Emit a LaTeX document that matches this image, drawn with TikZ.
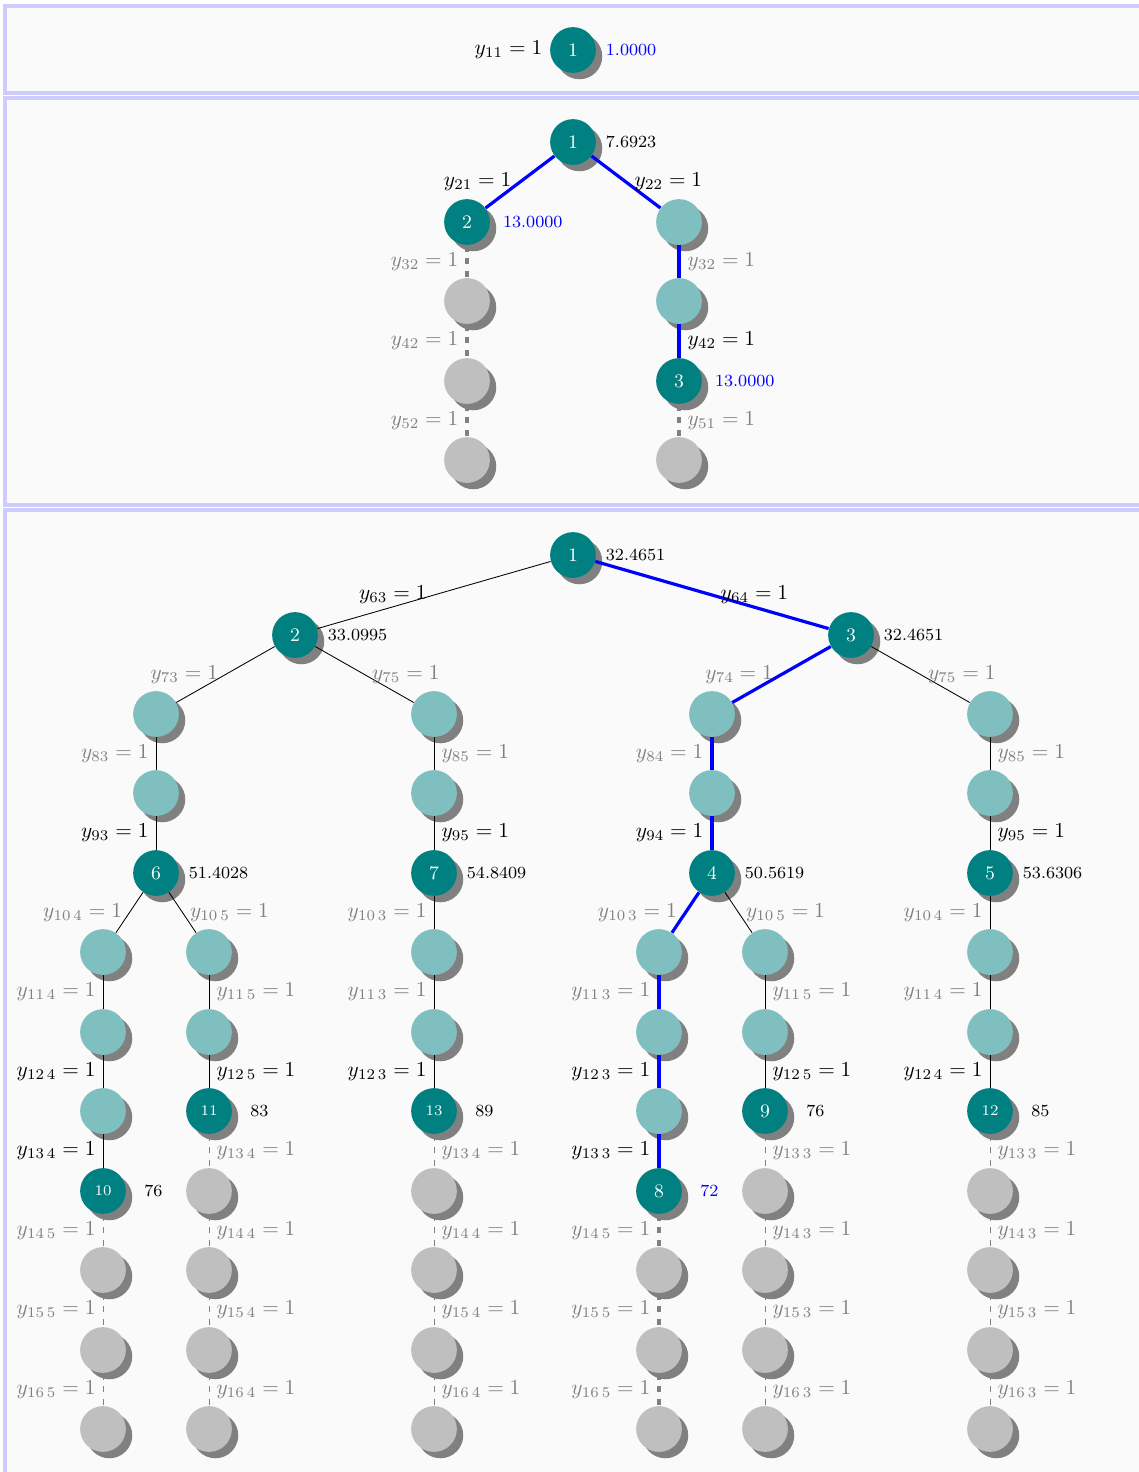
\documentclass[tikz,border=0pt]{standalone}
\usetikzlibrary{shadows}

\definecolor{panelfill}{RGB}{250,250,250}
\definecolor{panelline}{RGB}{204,204,255}

\tikzset{
  vtx/.style={circle, minimum size=21.5pt, inner sep=0pt, text=white, font=\small,
    drop shadow={shadow xshift=3pt, shadow yshift=-3pt, fill=gray, opacity=1}},
  solved/.style={vtx, fill=teal},
  partial/.style={vtx, fill=teal!50},
  pruned/.style={vtx, fill=lightgray},
  twodig/.style={font=\scriptsize},
  best/.style={blue, line width=1.5pt},
  cut/.style={gray, dashed},
  bestcut/.style={gray, dashed, line width=1.5pt},
  tag/.style={text=black},
  faded/.style={text=gray},
  val/.style={font=\footnotesize, label distance=1pt},
  leaf/.style={font=\footnotesize, label distance=5pt},
  panel/.style={draw=panelline, line width=1.5pt, fill=panelfill}
}

\begin{document}
\begin{tikzpicture}[x=0.47pt, y=-0.47pt]
\useasboundingbox (0,0) rectangle (1139,1472);

% the three frames
\path[panel] (5,6) rectangle (1160,93);
\path[panel] (5,98) rectangle (1160,505);
\path[panel] (5,510) rectangle (1160,1500);

% first frame
\node[solved, label={[val,blue]right:1.0000}, label={left:$y_{11}=1$}] (a1) at (573,50) {1};

% second frame
\node[solved, label={[val]right:7.6923}] (b1) at (573,142) {1};
\node[solved, label={[val,blue,label distance=2.5pt]right:13.0000}] (b2) at (467,222) {2};
\node[partial] (b3) at (679,222) {};
\node[pruned] (b4) at (467,301) {};
\node[pruned] (b5) at (467,381) {};
\node[pruned] (b6) at (467,460) {};
\node[partial] (b7) at (679,301) {};
\node[solved, label={[val,blue,label distance=2.5pt]right:13.0000}] (b8) at (679,381) {3};
\node[pruned] (b9) at (679,460) {};

\draw[best] (b1) -- node[left,tag] {$y_{21}=1$} (b2);
\draw[best] (b1) -- node[right,tag] {$y_{22}=1$} (b3);
\draw[bestcut] (b2) -- node[left] {$y_{32}=1$} (b4);
\draw[bestcut] (b4) -- node[left] {$y_{42}=1$} (b5);
\draw[bestcut] (b5) -- node[left] {$y_{52}=1$} (b6);
\draw[best] (b3) -- node[right,faded] {$y_{32}=1$} (b7);
\draw[best] (b7) -- node[right,tag] {$y_{42}=1$} (b8);
\draw[bestcut] (b8) -- node[right] {$y_{51}=1$} (b9);

% third frame
\node[solved, label={[val]right:32.4651}] (c1) at (573,555) {1};
\node[solved, label={[val]right:33.0995}] (c2) at (295,635) {2};
\node[solved, label={[val]right:32.4651}] (c3) at (851,635) {3};

\node[partial] (c2a) at (156,714) {};
\node[partial] (c2b) at (156,793) {};
\node[solved, label={[val]right:51.4028}] (c6) at (156,873) {6};
\node[partial] (c6a) at (103,952) {};
\node[partial] (c6b) at (103,1032) {};
\node[partial] (c6c) at (103,1111) {};
\node[solved, twodig, label={[leaf]right:76}] (c10) at (103,1191) {10};
\node[pruned] (c10a) at (103,1270) {};
\node[pruned] (c10b) at (103,1350) {};
\node[pruned] (c10c) at (103,1429) {};
\node[partial] (c6d) at (209,952) {};
\node[partial] (c6e) at (209,1032) {};
\node[solved, twodig, label={[leaf]right:83}] (c11) at (209,1111) {11};
\node[pruned] (c11a) at (209,1191) {};
\node[pruned] (c11b) at (209,1270) {};
\node[pruned] (c11c) at (209,1350) {};
\node[pruned] (c11d) at (209,1429) {};

\node[partial] (c2c) at (434,714) {};
\node[partial] (c2d) at (434,793) {};
\node[solved, label={[val]right:54.8409}] (c7) at (434,873) {7};
\node[partial] (c7a) at (434,952) {};
\node[partial] (c7b) at (434,1032) {};
\node[solved, twodig, label={[leaf]right:89}] (c13) at (434,1111) {13};
\node[pruned] (c13a) at (434,1191) {};
\node[pruned] (c13b) at (434,1270) {};
\node[pruned] (c13c) at (434,1350) {};
\node[pruned] (c13d) at (434,1429) {};

\node[partial] (c3a) at (712,714) {};
\node[partial] (c3b) at (712,793) {};
\node[solved, label={[val]right:50.5619}] (c4) at (712,873) {4};
\node[partial] (c4a) at (659,952) {};
\node[partial] (c4b) at (659,1032) {};
\node[partial] (c4c) at (659,1111) {};
\node[solved, label={[leaf,blue]right:72}] (c8) at (659,1191) {8};
\node[pruned] (c8a) at (659,1270) {};
\node[pruned] (c8b) at (659,1350) {};
\node[pruned] (c8c) at (659,1429) {};
\node[partial] (c4d) at (765,952) {};
\node[partial] (c4e) at (765,1032) {};
\node[solved, label={[leaf]right:76}] (c9) at (765,1111) {9};
\node[pruned] (c9a) at (765,1191) {};
\node[pruned] (c9b) at (765,1270) {};
\node[pruned] (c9c) at (765,1350) {};
\node[pruned] (c9d) at (765,1429) {};

\node[partial] (c3c) at (990,714) {};
\node[partial] (c3d) at (990,793) {};
\node[solved, label={[val]right:53.6306}] (c5) at (990,873) {5};
\node[partial] (c5a) at (990,952) {};
\node[partial] (c5b) at (990,1032) {};
\node[solved, twodig, label={[leaf]right:85}] (c12) at (990,1111) {12};
\node[pruned] (c12a) at (990,1191) {};
\node[pruned] (c12b) at (990,1270) {};
\node[pruned] (c12c) at (990,1350) {};
\node[pruned] (c12d) at (990,1429) {};

% left half
\draw (c1) -- node[left] {$y_{63}=1$} (c2);
\draw (c2) -- node[left,faded] {$y_{73}=1$} (c2a);
\draw (c2a) -- node[left,faded] {$y_{83}=1$} (c2b);
\draw (c2b) -- node[left] {$y_{93}=1$} (c6);
\draw (c6) -- node[left,faded] {$y_{10\,4}=1$} (c6a);
\draw (c6a) -- node[left,faded] {$y_{11\,4}=1$} (c6b);
\draw (c6b) -- node[left] {$y_{12\,4}=1$} (c6c);
\draw (c6c) -- node[left] {$y_{13\,4}=1$} (c10);
\draw[cut] (c10) -- node[left] {$y_{14\,5}=1$} (c10a);
\draw[cut] (c10a) -- node[left] {$y_{15\,5}=1$} (c10b);
\draw[cut] (c10b) -- node[left] {$y_{16\,5}=1$} (c10c);
\draw (c6) -- node[right,faded] {$y_{10\,5}=1$} (c6d);
\draw (c6d) -- node[right,faded] {$y_{11\,5}=1$} (c6e);
\draw (c6e) -- node[right] {$y_{12\,5}=1$} (c11);
\draw[cut] (c11) -- node[right] {$y_{13\,4}=1$} (c11a);
\draw[cut] (c11a) -- node[right] {$y_{14\,4}=1$} (c11b);
\draw[cut] (c11b) -- node[right] {$y_{15\,4}=1$} (c11c);
\draw[cut] (c11c) -- node[right] {$y_{16\,4}=1$} (c11d);
\draw (c2) -- node[right,faded] {$y_{75}=1$} (c2c);
\draw (c2c) -- node[right,faded] {$y_{85}=1$} (c2d);
\draw (c2d) -- node[right] {$y_{95}=1$} (c7);
\draw (c7) -- node[left,faded] {$y_{10\,3}=1$} (c7a);
\draw (c7a) -- node[left,faded] {$y_{11\,3}=1$} (c7b);
\draw (c7b) -- node[left] {$y_{12\,3}=1$} (c13);
\draw[cut] (c13) -- node[right] {$y_{13\,4}=1$} (c13a);
\draw[cut] (c13a) -- node[right] {$y_{14\,4}=1$} (c13b);
\draw[cut] (c13b) -- node[right] {$y_{15\,4}=1$} (c13c);
\draw[cut] (c13c) -- node[right] {$y_{16\,4}=1$} (c13d);

% right half, best path in blue
\draw[best] (c1) -- node[right,tag] {$y_{64}=1$} (c3);
\draw[best] (c3) -- node[left,faded] {$y_{74}=1$} (c3a);
\draw[best] (c3a) -- node[left,faded] {$y_{84}=1$} (c3b);
\draw[best] (c3b) -- node[left,tag] {$y_{94}=1$} (c4);
\draw[best] (c4) -- node[left,faded] {$y_{10\,3}=1$} (c4a);
\draw[best] (c4a) -- node[left,faded] {$y_{11\,3}=1$} (c4b);
\draw[best] (c4b) -- node[left,tag] {$y_{12\,3}=1$} (c4c);
\draw[best] (c4c) -- node[left,tag] {$y_{13\,3}=1$} (c8);
\draw[bestcut] (c8) -- node[left] {$y_{14\,5}=1$} (c8a);
\draw[bestcut] (c8a) -- node[left] {$y_{15\,5}=1$} (c8b);
\draw[bestcut] (c8b) -- node[left] {$y_{16\,5}=1$} (c8c);
\draw (c4) -- node[right,faded] {$y_{10\,5}=1$} (c4d);
\draw (c4d) -- node[right,faded] {$y_{11\,5}=1$} (c4e);
\draw (c4e) -- node[right] {$y_{12\,5}=1$} (c9);
\draw[cut] (c9) -- node[right] {$y_{13\,3}=1$} (c9a);
\draw[cut] (c9a) -- node[right] {$y_{14\,3}=1$} (c9b);
\draw[cut] (c9b) -- node[right] {$y_{15\,3}=1$} (c9c);
\draw[cut] (c9c) -- node[right] {$y_{16\,3}=1$} (c9d);
\draw (c3) -- node[right,faded] {$y_{75}=1$} (c3c);
\draw (c3c) -- node[right,faded] {$y_{85}=1$} (c3d);
\draw (c3d) -- node[right] {$y_{95}=1$} (c5);
\draw (c5) -- node[left,faded] {$y_{10\,4}=1$} (c5a);
\draw (c5a) -- node[left,faded] {$y_{11\,4}=1$} (c5b);
\draw (c5b) -- node[left] {$y_{12\,4}=1$} (c12);
\draw[cut] (c12) -- node[right] {$y_{13\,3}=1$} (c12a);
\draw[cut] (c12a) -- node[right] {$y_{14\,3}=1$} (c12b);
\draw[cut] (c12b) -- node[right] {$y_{15\,3}=1$} (c12c);
\draw[cut] (c12c) -- node[right] {$y_{16\,3}=1$} (c12d);

\end{tikzpicture}
\end{document}
